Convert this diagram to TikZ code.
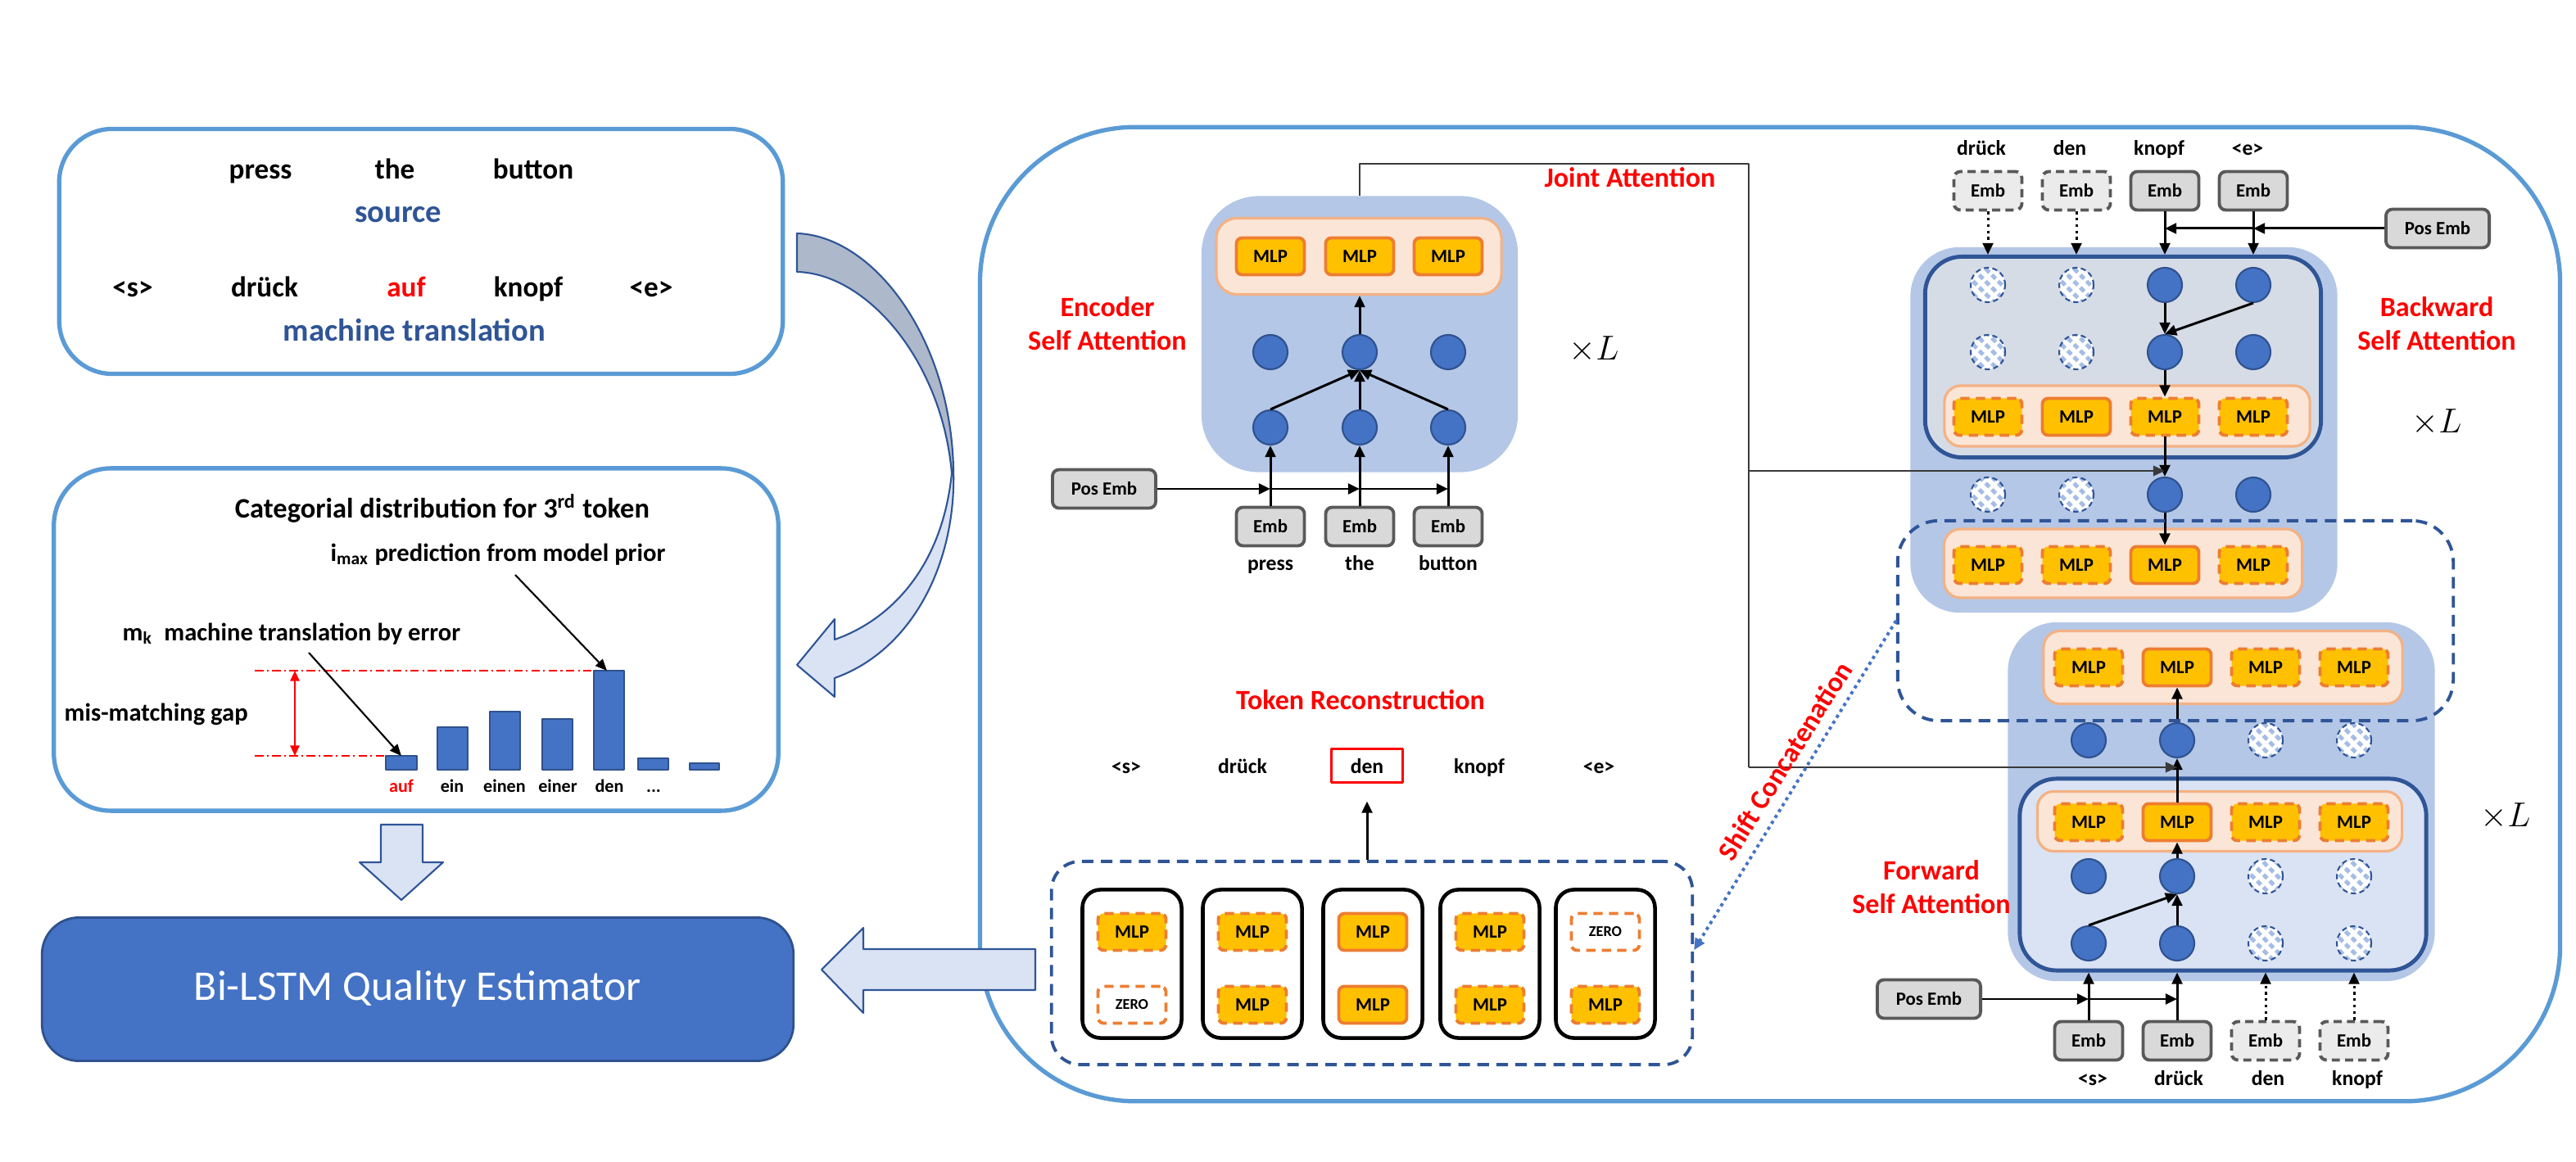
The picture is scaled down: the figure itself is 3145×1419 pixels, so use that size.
\documentclass[tikz,border=0pt]{standalone}
\usepackage{fontspec}
\setmainfont{Carlito}
\usetikzlibrary{arrows.meta,patterns.meta}

\definecolor{panelblue}{HTML}{5B9BD5}
\definecolor{navy}{HTML}{2F5597}
\definecolor{blockblue}{HTML}{B4C7E7}
\definecolor{innergray}{HTML}{D6DCE5}
\definecolor{innerlight}{HTML}{DAE3F3}
\definecolor{peach}{HTML}{FBE5D6}
\definecolor{peachline}{HTML}{F4B183}
\definecolor{mlpfill}{HTML}{FFC000}
\definecolor{mlpline}{HTML}{ED7D31}
\definecolor{unitblue}{HTML}{4472C4}
\definecolor{unitline}{HTML}{2F528F}
\definecolor{embfill}{HTML}{D9D9D9}
\definecolor{embline}{HTML}{595959}
\definecolor{embmask}{HTML}{EBEBEB}
\definecolor{stripe}{HTML}{A5BDE5}
\definecolor{arrowfill}{HTML}{DAE3F3}
\definecolor{backfill}{HTML}{ADB9CA}
\definecolor{linkgray}{HTML}{3A3A3A}

\newcommand\fsWord{\fontsize{10}{12}\selectfont\bfseries}
\newcommand\fsBig{\fontsize{11}{13}\selectfont\bfseries}
\newcommand\fsTitle{\fontsize{9.8}{12}\selectfont\bfseries}
\newcommand\fsNote{\fontsize{8.7}{10.5}\selectfont\bfseries}
\newcommand\fsRed{\fontsize{9.7}{11.8}\selectfont\bfseries}
\newcommand\fsTok{\fontsize{7.3}{9}\selectfont\bfseries}
\newcommand\fsBar{\fontsize{6.3}{8}\selectfont\bfseries}
\newcommand\fsBox{\fontsize{6.5}{8}\selectfont\bfseries}
\newcommand\fsZero{\fontsize{5.2}{6}\selectfont\bfseries}
\newcommand\fsTimesL{\fontsize{12}{14}\selectfont}

\begin{document}
\begin{tikzpicture}[x=0.01cm, y=-0.01cm, line join=round,
  panel/.style={draw=panelblue, line width=1.5pt, inner sep=0pt},
  blk/.style={fill=blockblue, rounded corners=0.6cm, inner sep=0pt},
  attbox/.style={draw=navy, line width=1.4pt, rounded corners=0.45cm, inner sep=0pt},
  contbox/.style={draw=peachline, fill=peach, line width=0.9pt, rounded corners=0.2cm, inner sep=0pt},
  mlp/.style={draw=mlpline, fill=mlpfill, line width=1.1pt, rounded corners=0.07cm,
    minimum width=0.83cm, minimum height=0.45cm, inner sep=0pt, font=\fsBox},
  mlpd/.style={mlp, dash pattern=on 3.2pt off 2.2pt},
  zero/.style={mlpd, fill=white, font=\fsZero},
  emb/.style={draw=embline, fill=embfill, line width=1.1pt, rounded corners=0.08cm,
    minimum width=0.83cm, minimum height=0.47cm, inner sep=0pt, font=\fsBox},
  embd/.style={emb, fill=embmask, dash pattern=on 2.8pt off 1.8pt},
  posemb/.style={emb, minimum width=1.26cm},
  neuron/.style={circle, draw=unitline, fill=unitblue, line width=0.6pt,
    minimum size=0.42cm, inner sep=0pt},
  masked/.style={circle, draw=navy, line width=0.6pt, dash pattern=on 1.8pt off 1.2pt,
    minimum size=0.42cm, inner sep=0pt, preaction={fill=white},
    pattern={Lines[angle=-45,distance=3.1pt,line width=1.4pt]}, pattern color=stripe},
  card/.style={draw=black, line width=1.3pt, rounded corners=0.22cm,
    minimum width=1.21cm, minimum height=1.81cm, inner sep=0pt},
  groupbox/.style={draw=navy, line width=1.1pt, dash pattern=on 4pt off 2.6pt,
    rounded corners=0.4cm, inner sep=0pt},
  arr/.style={-{Triangle[length=4pt,width=3.6pt]}, line width=0.85pt},
  darr/.style={arr, dash pattern=on 0.9pt off 1.3pt},
  link/.style={draw=linkgray, line width=0.45pt},
  linkarr/.style={link, -{Triangle[length=4pt,width=3.6pt]}},
  redlab/.style={text=red, font=\fsRed, align=center},
  tok/.style={font=\fsTok, text height=1.45ex, text depth=0.35ex, inner sep=1pt},
  word/.style={font=\fsWord, anchor=base, inner sep=0pt},
  note/.style={font=\fsNote, anchor=base west, inner sep=0pt},
  barlab/.style={font=\fsBar, anchor=base, inner sep=0pt},
  bar/.style={fill=unitblue, draw=unitline, line width=0.6pt},
  bigarrow/.style={fill=arrowfill, draw=navy, line width=0.6pt},
  gapline/.style={red, line width=0.45pt, dash pattern=on 3pt off 1.2pt on 0.6pt off 1.2pt},
]
\fill[white] (0,0) rectangle (3145,1419);
\useasboundingbox (0,0) rectangle (3145,1419);

% ================= left column =================
% source / translation box
\node[panel, minimum width=8.83cm, minimum height=2.99cm, rounded corners=0.65cm] (srcbox) at (514,307) {};
\node[word] (w1) at (318,219) {press};
\node[word] (w2) at (482,219) {the};
\node[word] (w3) at (651,219) {button};
\node[word, font=\fsBig, text=navy] (wsrc) at (486,272) {source};
\node[word] (m1) at (162,363) {<s>};
\node[word] (m2) at (323,363) {drück};
\node[word, text=red] (m3) at (496,363) {auf};
\node[word] (m4) at (645,363) {knopf};
\node[word] (m5) at (795,363) {<e>};
\node[word, font=\fsBig, text=navy] (wmt) at (506,417) {machine translation};

% categorial distribution box
\node[panel, minimum width=8.84cm, minimum height=4.18cm, rounded corners=0.7cm] (distbox) at (508,781) {};
\node[font=\fsTitle, anchor=base, inner sep=0pt] (dtitle) at (540,633) {Categorial distribution for 3\textsuperscript{rd} token};
\node[note] (imax) at (403,686) {i\textsubscript{max} prediction from model prior};
\node[note] (mk) at (149,782) {m\textsubscript{k}\ \ machine translation by error};
\node[note] (gap) at (78,880) {mis-matching gap};

\draw[bar] (471,923) rectangle (509,940);
\draw[bar] (534,888) rectangle (571,940);
\draw[bar] (598,869) rectangle (635,940);
\draw[bar] (662,878) rectangle (699,940);
\draw[bar] (725,819) rectangle (762,940);
\draw[bar] (779,926) rectangle (816,940);
\draw[bar] (842,932) rectangle (878,940);
\coordinate (aufTop) at (490,923);
\coordinate (denTop) at (741,819);
\coordinate (imaxFoot) at (629,702);
\coordinate (mkFoot) at (377,797);

\node[barlab, text=red] (lauf) at (490,967) {auf};
\node[barlab] (lein) at (552,967) {ein};
\node[barlab] (leinen) at (616,967) {einen};
\node[barlab] (leiner) at (681,967) {einer};
\node[barlab] (lden) at (744,967) {den};
\node[barlab] (ldots) at (798,967) {...};

\coordinate (gapTopL) at (311,819);
\coordinate (gapBotL) at (311,923);
\draw[gapline] (gapTopL) -- (725,819);
\draw[gapline] (gapBotL) -- (471,923);
\draw[red, line width=0.6pt, {Triangle[length=3.6pt,width=3.2pt]}-{Triangle[length=3.6pt,width=3.2pt]}] (360,819) -- (360,923);
\draw[line width=0.6pt, -{Triangle[length=4pt,width=3.4pt]}] (imaxFoot) -- (denTop);
\draw[line width=0.6pt, -{Triangle[length=4pt,width=3.4pt]}] (mkFoot) -- (aufTop);

% curved arrow from the translation box down to the distribution box
\draw[fill=backfill, draw=navy, line width=0.6pt]
  (973,285) .. controls (1065,288) and (1160,410) .. (1164,572)
  -- (1162,578) .. controls (1150,440) and (1058,334) .. (973,332) -- cycle;
\draw[fill=arrowfill, draw=navy, line width=0.6pt]
  (1164,572) .. controls (1168,690) and (1112,795) .. (1019,828)
  -- (1019,851) -- (973,812) -- (1019,756) -- (1019,781)
  .. controls (1085,758) and (1150,695) .. (1162,578) -- cycle;

% quality estimator
\node[fill=unitblue, draw=unitline, line width=0.8pt, rounded corners=0.45cm,
  minimum width=9.17cm, minimum height=1.75cm, text=white,
  font=\fontsize{14.7}{17}\selectfont] (qe) at (510,1208) {Bi-LSTM Quality Estimator};
\draw[bigarrow] (465,1007) -- (516,1007) -- (516,1053) -- (541,1053) -- (490,1099)
  -- (439,1053) -- (465,1053) -- cycle;

% ================= model panel =================
\node[panel, fill=white, minimum width=19.28cm, minimum height=11.89cm, rounded corners=1.9cm] (mainpanel) at (2161,750) {};
\draw[bigarrow] (1264,1159) -- (1054,1159) -- (1054,1133) -- (1003,1184) -- (1054,1237)
  -- (1054,1209) -- (1264,1209) -- cycle;

% ---------- encoder ----------
\node[blk, minimum width=3.86cm, minimum height=3.37cm, rounded corners=0.7cm] (encblk) at (1660,408) {};
\node[contbox, minimum width=3.48cm, minimum height=0.93cm, rounded corners=0.25cm] (enccont) at (1659,313) {};
\node[mlp] (emlp1) at (1551,313) {MLP};
\node[mlp] (emlp2) at (1660,313) {MLP};
\node[mlp] (emlp3) at (1768,313) {MLP};
\node[neuron] (eup1) at (1551,430) {};
\node[neuron] (eup2) at (1660,430) {};
\node[neuron] (eup3) at (1768,430) {};
\node[neuron] (elo1) at (1551,522) {};
\node[neuron] (elo2) at (1660,522) {};
\node[neuron] (elo3) at (1768,522) {};
\node[emb] (eemb1) at (1551,643) {Emb};
\node[emb] (eemb2) at (1660,643) {Emb};
\node[emb] (eemb3) at (1768,643) {Emb};
\node[posemb] (epos) at (1348,597) {Pos Emb};
\node[tok] (el1) at (1551,687) {press};
\node[tok] (el2) at (1660,687) {the};
\node[tok] (el3) at (1768,687) {button};
\node[redlab] (enclab) at (1352,395) {Encoder\\Self Attention};
\node[font=\fsTimesL] (encL) at (1946,427) {$\times L$};

\draw[arr] (eemb1.north) -- (elo1.south);
\draw[arr] (eemb2.north) -- (elo2.south);
\draw[arr] (eemb3.north) -- (elo3.south);
\draw[arr] (epos.east) -- (eemb1.north |- epos.east);
\draw[arr] (eemb1.north |- epos.east) -- (eemb2.north |- epos.east);
\draw[arr] (eemb2.north |- epos.east) -- (eemb3.north |- epos.east);
\draw[arr] (elo1.north) -- (eup2.south);
\draw[arr] (elo2.north) -- (eup2.south);
\draw[arr] (elo3.north) -- (eup2.south);
\draw[arr] (eup2.north) -- (eup2.north |- enccont.south);

% ---------- backward decoder ----------
\node[blk, minimum width=5.21cm, minimum height=4.46cm] (bwblk) at (2593,525) {};
\node[attbox, fill=innergray, minimum width=4.83cm, minimum height=2.45cm] (bwin) at (2592,436) {};
\node[contbox, minimum width=4.46cm, minimum height=0.74cm] (bwcont) at (2597,508) {};
\node[contbox, minimum width=4.37cm, minimum height=0.84cm] (bwcont2) at (2592,688) {};

\node[embd] (bemb1) at (2427,233) {Emb};
\node[embd] (bemb2) at (2535,233) {Emb};
\node[emb] (bemb3) at (2643,233) {Emb};
\node[emb] (bemb4) at (2751,233) {Emb};
\node[tok] (bl1) at (2419,180) {drück};
\node[tok] (bl2) at (2527,180) {den};
\node[tok] (bl3) at (2636,180) {knopf};
\node[tok] (bl4) at (2744,180) {<e>};
\node[posemb] (bpos) at (2976,279) {Pos Emb};

\node[masked] (bra1) at (2427,348) {};
\node[masked] (bra2) at (2535,348) {};
\node[neuron] (bra3) at (2643,348) {};
\node[neuron] (bra4) at (2751,348) {};
\node[masked] (brb1) at (2427,430) {};
\node[masked] (brb2) at (2535,430) {};
\node[neuron] (brb3) at (2643,430) {};
\node[neuron] (brb4) at (2751,430) {};
\node[mlpd] (bma1) at (2427,509) {MLP};
\node[mlp] (bma2) at (2535,509) {MLP};
\node[mlpd] (bma3) at (2643,509) {MLP};
\node[mlpd] (bma4) at (2751,509) {MLP};
\node[masked] (brc1) at (2427,604) {};
\node[masked] (brc2) at (2535,604) {};
\node[neuron] (brc3) at (2643,604) {};
\node[neuron] (brc4) at (2751,604) {};
\node[mlpd] (bmb1) at (2427,690) {MLP};
\node[mlpd] (bmb2) at (2535,690) {MLP};
\node[mlp] (bmb3) at (2643,690) {MLP};
\node[mlpd] (bmb4) at (2751,690) {MLP};

\node[redlab] (bwlab) at (2975,395) {Backward\\Self Attention};
\node[font=\fsTimesL] (bwL) at (2975,516) {$\times L$};

\draw[darr] (bemb1.south) -- (bemb1.south |- bwin.north);
\draw[darr] (bemb2.south) -- (bemb2.south |- bwin.north);
\draw[arr] (bemb3.south) -- (bemb3.south |- bwin.north);
\draw[arr] (bemb4.south) -- (bemb4.south |- bwin.north);
\draw[arr] (bpos.west) -- (bemb4.south |- bpos.west);
\draw[arr] (bemb4.south |- bpos.west) -- (bemb3.south |- bpos.west);
\draw[arr] (bra3.south) -- (brb3.north);
\draw[arr] (bra4.south) -- (brb3.north);
\draw[arr] (brb3.south) -- (bma3.north);
\draw[arr] (bma3.south) -- (brc3.north);
\draw[arr] (brc3.south) -- (bmb3.north);

% ---------- forward decoder ----------
\node[blk, minimum width=5.21cm, minimum height=4.38cm] (fwblk) at (2712,979) {};
\node[contbox, minimum width=4.38cm, minimum height=0.89cm] (fwcont1) at (2714,815) {};
\node[attbox, fill=innerlight, minimum width=4.96cm, minimum height=2.34cm] (fwin) at (2714,1068) {};
\node[contbox, minimum width=4.45cm, minimum height=0.73cm] (fwcont2) at (2710,1003) {};

\node[mlpd] (fmt1) at (2550,815) {MLP};
\node[mlp] (fmt2) at (2658,815) {MLP};
\node[mlpd] (fmt3) at (2766,815) {MLP};
\node[mlpd] (fmt4) at (2874,815) {MLP};
\node[neuron] (fro1) at (2550,904) {};
\node[neuron] (fro2) at (2658,904) {};
\node[masked] (fro3) at (2766,904) {};
\node[masked] (fro4) at (2874,904) {};
\node[mlpd] (fmi1) at (2550,1004) {MLP};
\node[mlp] (fmi2) at (2658,1004) {MLP};
\node[mlpd] (fmi3) at (2766,1004) {MLP};
\node[mlpd] (fmi4) at (2874,1004) {MLP};
\node[neuron] (fra1) at (2550,1070) {};
\node[neuron] (fra2) at (2658,1070) {};
\node[masked] (fra3) at (2766,1070) {};
\node[masked] (fra4) at (2874,1070) {};
\node[neuron] (frb1) at (2550,1152) {};
\node[neuron] (frb2) at (2658,1152) {};
\node[masked] (frb3) at (2766,1152) {};
\node[masked] (frb4) at (2874,1152) {};
\node[emb] (femb1) at (2550,1271) {Emb};
\node[emb] (femb2) at (2658,1271) {Emb};
\node[embd] (femb3) at (2766,1271) {Emb};
\node[embd] (femb4) at (2874,1271) {Emb};
\node[tok] (fl1) at (2555,1316) {<s>};
\node[tok] (fl2) at (2660,1316) {drück};
\node[tok] (fl3) at (2769,1316) {den};
\node[tok] (fl4) at (2878,1316) {knopf};
\node[posemb] (fpos) at (2355,1220) {Pos Emb};

\node[redlab] (fwlab) at (2358,1083) {Forward\\Self Attention};
\node[font=\fsTimesL] (fwL) at (3059,997) {$\times L$};

\draw[arr] (femb1.north) -- (femb1.north |- fwin.south);
\draw[arr] (femb2.north) -- (femb2.north |- fwin.south);
\draw[darr] (femb3.north) -- (femb3.north |- fwin.south);
\draw[darr] (femb4.north) -- (femb4.north |- fwin.south);
\draw[arr] (fpos.east) -- (femb1.north |- fpos.east);
\draw[arr] (femb1.north |- fpos.east) -- (femb2.north |- fpos.east);
\draw[arr] (frb1.north) -- (fra2.south);
\draw[arr] (frb2.north) -- (fra2.south);
\draw[arr] (fra2.north) -- (fmi2.south);
\draw[arr] (fmi2.north) -- (fro2.south);
\draw[arr] (fro2.north) -- (fmt2.south);

% ---------- joint attention links ----------
\coordinate (jt1) at (1660,200);
\coordinate (jt2) at (2135,200);
\coordinate (jmid) at (2135,575);
\coordinate (jbot) at (2135,937);
\draw[link] (encblk.north) -- (jt1) -- (jt2) -- (jbot);
\draw[linkarr] (jmid) -- (brc3.north |- jmid);
\draw[linkarr] (jbot) -- (fro2.south |- jbot);
\node[redlab] (jointlab) at (1990,217) {Joint Attention};

% fused output group
\node[groupbox, minimum width=6.78cm, minimum height=2.44cm, rounded corners=0.5cm] (fusebox) at (2656,758) {};

% ---------- token reconstruction ----------
\node[redlab] (trlab) at (1661,855) {Token Reconstruction};
\node[tok] (t1) at (1375,935) {<s>};
\node[tok] (t2) at (1517,935) {drück};
\node[tok, draw=red, line width=1.1pt, minimum width=0.87cm, minimum height=0.41cm] (t3) at (1669,935) {den};
\node[tok] (t4) at (1806,935) {knopf};
\node[tok] (t5) at (1952,935) {<e>};

\node[groupbox, minimum width=7.82cm, minimum height=2.48cm, rounded corners=0.35cm] (tokbox) at (1675,1176) {};
\node[card] (card1) at (1382,1177) {};
\node[card] (card2) at (1529,1177) {};
\node[card] (card3) at (1676,1177) {};
\node[card] (card4) at (1819,1177) {};
\node[card] (card5) at (1960,1177) {};
\node[mlpd] (c1a) at (1382,1138) {MLP};
\node[zero] (c1b) at (1382,1227) {ZERO};
\node[mlpd] (c2a) at (1529,1138) {MLP};
\node[mlpd] (c2b) at (1529,1227) {MLP};
\node[mlp] (c3a) at (1676,1138) {MLP};
\node[mlp] (c3b) at (1676,1227) {MLP};
\node[mlpd] (c4a) at (1819,1138) {MLP};
\node[mlpd] (c4b) at (1819,1227) {MLP};
\node[zero] (c5a) at (1960,1138) {ZERO};
\node[mlpd] (c5b) at (1960,1227) {MLP};

\draw[arr] (tokbox.north -| t3) -- ([yshift=-6pt]t3.south);

% shift concatenation link
\draw[unitblue, line width=1.1pt, dash pattern=on 1.1pt off 1.3pt, -{Triangle[length=4pt,width=3.6pt]}]
  (fusebox.west) -- ([yshift=4.5pt]tokbox.east)
  node[pos=0.46, rotate=58, anchor=south, inner sep=3.5pt, font=\fsRed, text=red] (shiftlab) {Shift Concatenation};
\end{tikzpicture}
\end{document}
